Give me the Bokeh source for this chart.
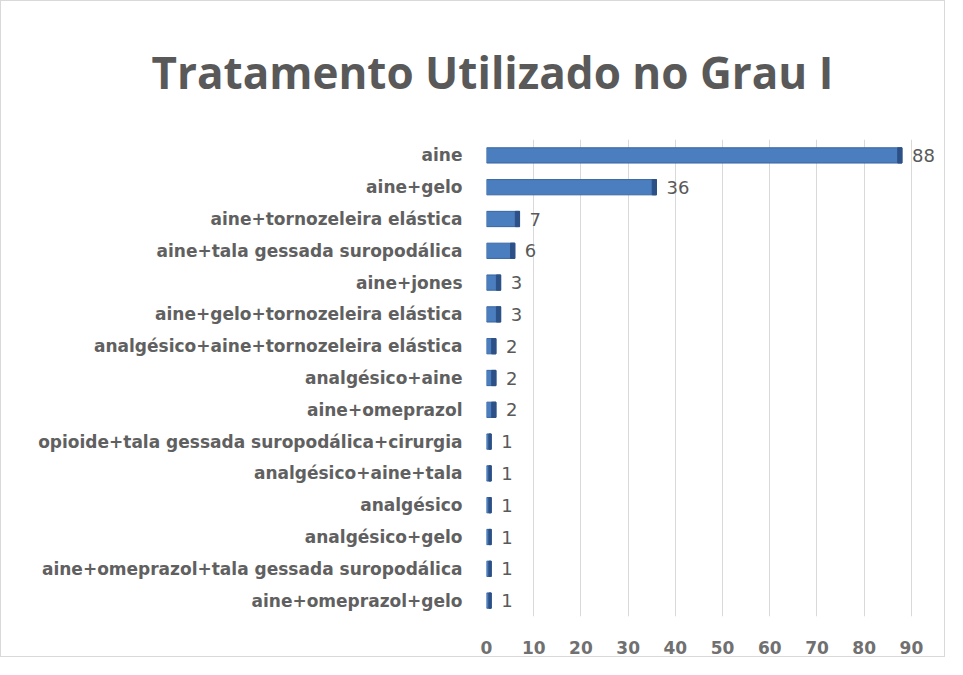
from bokeh.plotting import figure
from bokeh.models import ColumnDataSource, FixedTicker, LabelSet
from bokeh.core.properties import value
from bokeh.embed import file_html
from bokeh.resources import INLINE

title_text = "Tratamento Utilizado no Grau I"
categories = [
    "aine",
    "aine+gelo",
    "aine+tornozeleira elástica",
    "aine+tala gessada suropodálica",
    "aine+jones",
    "aine+gelo+tornozeleira elástica",
    "analgésico+aine+tornozeleira elástica",
    "analgésico+aine",
    "aine+omeprazol",
    "opioide+tala gessada suropodálica+cirurgia",
    "analgésico+aine+tala",
    "analgésico",
    "analgésico+gelo",
    "aine+omeprazol+tala gessada suropodálica",
    "aine+omeprazol+gelo",
]
values = [88, 36, 7, 6, 3, 3, 2, 2, 2, 1, 1, 1, 1, 1, 1]
x_ticks = [0, 10, 20, 30, 40, 50, 60, 70, 80, 90]

cap = [min(0.9, v * 0.5) for v in values]
src = ColumnDataSource(dict(
    cat=categories,
    val=values,
    cap_left=[v - c for v, c in zip(values, cap)],
    lbl=[str(v) for v in values],
))

W, H = 945, 657
p = figure(
    y_range=list(reversed(categories)),
    x_range=(0, 96.8),
    width=W, height=H,
    output_backend="svg", toolbar_location=None,
    min_border_left=485, min_border_right=3,
    min_border_top=126, min_border_bottom=42,
    title=title_text,
)
p.styles = {"border": "1px solid #D9D9D9"}

p.title.text_font = "Open Sans"
p.title.text_font_size = "44px"
p.title.text_font_style = "bold"
p.title.text_color = "#595959"
p.title.text_line_height = 0.8
p.title.align = "left"
p.title.offset = -335
p.title.standoff = 76

p.hbar(y="cat", left=0, right="val", height=0.48, source=src,
       fill_color="#4A7EBF", line_color="#3A66A0", line_width=1)
p.hbar(y="cat", left="cap_left", right="val", height=0.48, source=src,
       fill_color="#2D5186", line_color="#2D5186", line_width=1)

labels = LabelSet(x="val", y="cat", text="lbl", source=src, x_offset=10,
                  y_offset=0, text_baseline="middle",
                  text_font=value("DejaVu Sans"),
                  text_font_size="18px", text_color="#595959")
p.add_layout(labels)

p.xaxis.ticker = FixedTicker(ticks=x_ticks)
p.xaxis.axis_line_color = None
p.xaxis.major_tick_line_color = None
p.xaxis.minor_tick_line_color = None
p.xaxis.major_label_standoff = 18
p.xaxis.major_label_text_font = "DejaVu Sans"
p.xaxis.major_label_text_font_size = "17px"
p.xaxis.major_label_text_font_style = "bold"
p.xaxis.major_label_text_color = "#707070"

p.yaxis.axis_line_color = None
p.yaxis.major_tick_line_color = None
p.yaxis.major_label_standoff = 18
p.yaxis.major_label_text_font = "DejaVu Sans"
p.yaxis.major_label_text_font_size = "17px"
p.yaxis.major_label_text_font_style = "bold"
p.yaxis.major_label_text_color = "#606060"

p.ygrid.grid_line_color = None
p.xgrid.grid_line_color = "#D9D9D9"
p.outline_line_color = None

open("out.html", "w").write(file_html(p, INLINE))
